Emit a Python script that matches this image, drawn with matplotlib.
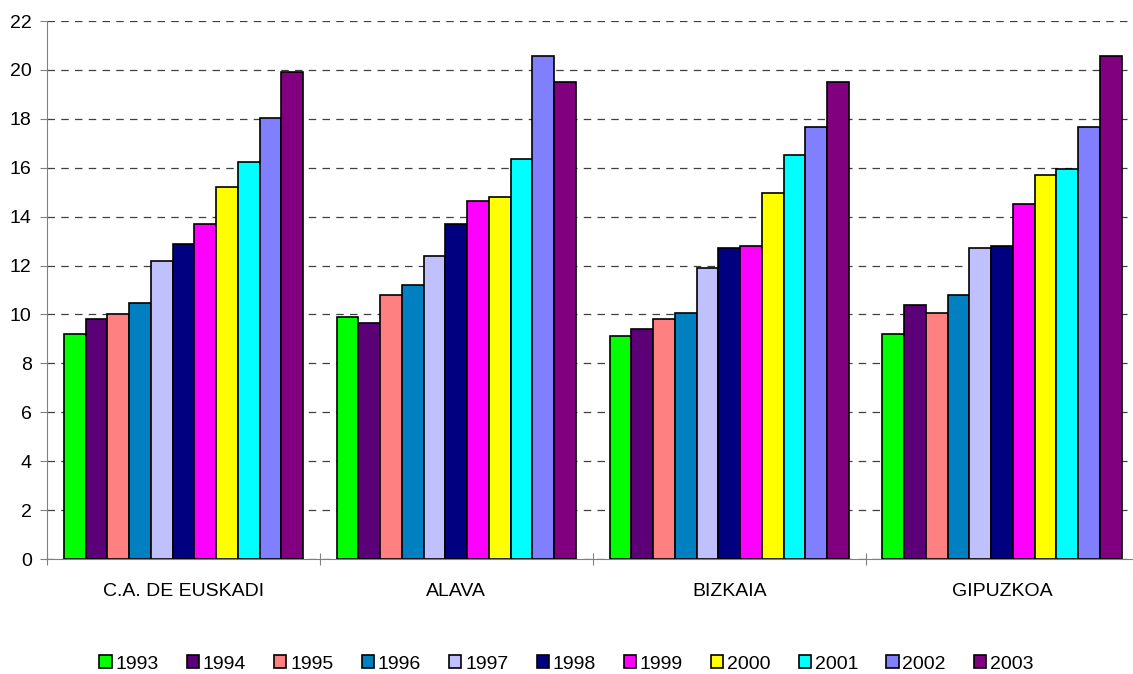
import matplotlib.pyplot as plt
import numpy as np
from matplotlib import rcParams

rcParams['font.family'] = ['Liberation Sans', 'DejaVu Sans']

regions = ['C.A. DE EUSKADI', 'ALAVA', 'BIZKAIA', 'GIPUZKOA']
years = ['1993', '1994', '1995', '1996', '1997', '1998',
         '1999', '2000', '2001', '2002', '2003']

# one list per year, values for the four regions
v1993 = [9.2, 9.9, 9.1, 9.2]
v1994 = [9.8, 9.65, 9.4, 10.4]
v1995 = [10.0, 10.8, 9.8, 10.05]
v1996 = [10.45, 11.2, 10.05, 10.8]
v1997 = [12.2, 12.4, 11.9, 12.7]
v1998 = [12.9, 13.7, 12.7, 12.8]
v1999 = [13.7, 14.65, 12.8, 14.5]
v2000 = [15.2, 14.8, 14.95, 15.7]
v2001 = [16.25, 16.35, 16.5, 15.95]
v2002 = [18.05, 20.55, 17.65, 17.65]
v2003 = [19.9, 19.5, 19.5, 20.55]
values = [v1993, v1994, v1995, v1996, v1997, v1998,
          v1999, v2000, v2001, v2002, v2003]

colors = ['#00FF00', '#5C0078', '#FF8080', '#0080C0', '#C0C0FF', '#000080',
          '#FF00FF', '#FFFF00', '#00FFFF', '#8080FF', '#800080']

fig = plt.figure(figsize=(11.33, 6.74), dpi=100)
ax = fig.add_axes([47/1133, 115/674, 1091.5/1133, 538/674])

bw = 0.0797
centers = np.arange(len(regions)) + 0.5
for k, (yr, vals) in enumerate(zip(years, values)):
    off = (k - 5) * bw
    ax.bar(centers + off, vals, width=bw, color=colors[k],
           edgecolor='black', linewidth=1.2, label=yr, zorder=3)

ax.set_xlim(0, 4)
ax.set_ylim(0, 22)
ax.set_yticks(range(0, 23, 2))
ax.yaxis.grid(True, linestyle=(0, (6, 5)), color='#404040', linewidth=0.9)
ax.set_axisbelow(True)

ax.set_xticks(range(0, 5))
ax.set_xticklabels([])
ax.set_xticks(centers, minor=True)
ax.set_xticklabels(regions, minor=True)
ax.tick_params(axis='x', which='minor', length=0, pad=17, labelsize=14)
ax.tick_params(axis='x', which='major', direction='inout', length=8,
               color='#808080')
ax.tick_params(axis='y', direction='out', length=5, color='#808080',
               labelsize=14, pad=6)

for s in ['top', 'right']:
    ax.spines[s].set_visible(False)
for s in ['left', 'bottom']:
    ax.spines[s].set_color('#808080')

fig.legend(loc='center', bbox_to_anchor=(0.5, 1 - 664/674), ncol=11,
           frameon=False, fontsize=14, handlelength=0.62, handleheight=0.62,
           handletextpad=0.2, columnspacing=1.45)

plt.savefig('out.png', dpi=100)
